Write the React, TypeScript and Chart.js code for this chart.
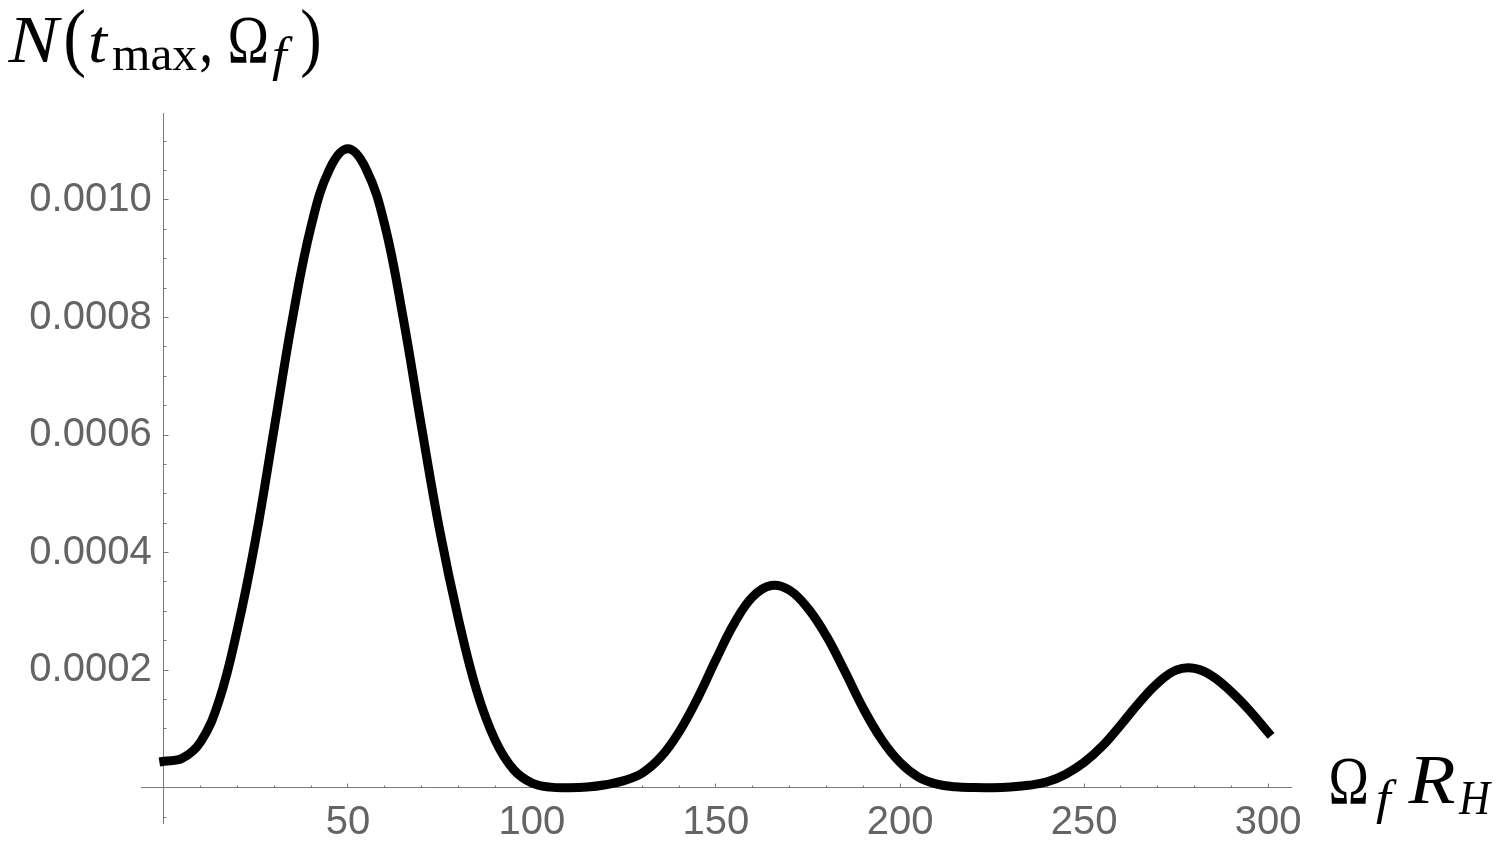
import React, { useEffect, useRef } from "react";
import { Chart, registerables } from "chart.js";

Chart.register(...registerables);

// Ω_f R_H values (x) and N(t_max, Ω_f) values (y)
const OMEGA_R: number[] = [
  0, 5, 10, 15, 20, 25, 30, 35, 40, 45, 50, 55, 60, 65, 70, 75, 80, 85, 90, 95,
  100, 105, 110, 115, 120, 125, 130, 135, 140, 145, 150, 155, 160, 165, 170,
  175, 180, 185, 190, 195, 200, 205, 210, 215, 220, 225, 230, 235, 240, 245, 250,
  255, 260, 265, 270, 275, 280, 285, 290, 295, 300,
];
const N_TMAX: number[] = [
  0.000045, 0.00005, 0.000078, 0.000148, 0.00027, 0.000425, 0.000612, 0.0008,
  0.000955, 0.001052, 0.001087, 0.001052, 0.000958, 0.0008, 0.000614, 0.000436,
  0.000288, 0.000165, 0.000081, 0.000031, 0.000008, 0.000001, 0.0, 0.000001,
  0.000005, 0.000012, 0.000025, 0.000052, 0.000095, 0.000152, 0.000218, 0.00028,
  0.000325, 0.000344, 0.000336, 0.000305, 0.000258, 0.000198, 0.000135, 0.000082,
  0.000043, 0.000018, 0.000006, 0.0000015, 0.0000002, 0.0, 0.0000012, 0.000004,
  0.00001, 0.000023, 0.000043, 0.000071, 0.000107, 0.000145, 0.000178, 0.0002,
  0.000203, 0.000189, 0.000163, 0.000131, 0.000094,
];

const X_TICKS: number[] = [50, 100, 150, 200, 250, 300];
const X_TICK_LABELS: string[] = ["50", "100", "150", "200", "250", "300"];
const Y_TICKS: number[] = [0.0002, 0.0004, 0.0006, 0.0008, 0.001];
const Y_TICK_LABELS: string[] = ["0.0002", "0.0004", "0.0006", "0.0008", "0.0010"];
const X_MAJOR_STEP = 50;
const X_MINOR_STEP = 10;
const Y_MAJOR_STEP = 0.0002;
const Y_MINOR_STEP = 0.00005;
const X_MIN = -6.2;
const X_MAX = 306.4;
const Y_MIN = -0.0000601;
const Y_MAX = 0.0011475;

const AXIS_COLOR = "#7a7a7a";
const LABEL_COLOR = "#646464";
const TICK_FONT = { family: '"Liberation Sans", Arial, sans-serif', size: 40 };

type Piece = { text: string; italic: boolean; size: number; x0: number; x1: number; base: number };

const TITLE_PIECES: Piece[] = [
  { text: "N", italic: true, size: 68, x0: 7, x1: 63, base: 62 },
  { text: "(", italic: false, size: 76, x0: 66, x1: 84, base: 62 },
  { text: "t", italic: true, size: 62, x0: 88, x1: 111, base: 62 },
  { text: "max", italic: false, size: 48, x0: 113, x1: 197, base: 70 },
  { text: ",", italic: false, size: 68, x0: 201, x1: 210, base: 62 },
  { text: "Ω", italic: false, size: 68, x0: 230, x1: 267, base: 62 },
  { text: "f", italic: true, size: 48, x0: 272, x1: 293, base: 71 },
  { text: ")", italic: false, size: 76, x0: 302, x1: 319, base: 62 },
];
const XLABEL_PIECES: Piece[] = [
  { text: "Ω", italic: false, size: 68, x0: 1331, x1: 1367, base: 803 },
  { text: "f", italic: true, size: 48, x0: 1375, x1: 1398, base: 814 },
  { text: "R", italic: true, size: 70, x0: 1405, x1: 1457, base: 803 },
  { text: "H", italic: true, size: 48, x0: 1458, x1: 1492, base: 814 },
];

function drawPieces(ctx: CanvasRenderingContext2D, pieces: Piece[]) {
  for (const p of pieces) {
    ctx.save();
    ctx.font = `${p.italic ? "italic " : ""}${p.size}px "Liberation Serif", "DejaVu Serif", serif`;
    ctx.textAlign = "left";
    ctx.textBaseline = "alphabetic";
    ctx.fillStyle = "#000";
    const m = ctx.measureText(p.text);
    const inkW = m.actualBoundingBoxRight + m.actualBoundingBoxLeft;
    const target = p.x1 - p.x0;
    let sx = inkW > 0 ? target / inkW : 1;
    sx = Math.max(0.75, Math.min(1.1, sx));
    const start = p.x0 + (target - inkW * sx) / 2;
    ctx.translate(start, p.base);
    ctx.scale(sx, 1);
    ctx.fillText(p.text, m.actualBoundingBoxLeft, 0);
    ctx.restore();
  }
}

const mathLabels = {
  id: "mathLabels",
  afterDraw(chart: Chart) {
    const ctx = chart.ctx;
    drawPieces(ctx, TITLE_PIECES);
    drawPieces(ctx, XLABEL_PIECES);
  },
};

function labelFor(values: number[], labels: string[], v: number): string {
  for (let i = 0; i < values.length; i++) {
    if (Math.abs(values[i] - v) < 1e-9) return labels[i];
  }
  return "";
}

export default function App() {
  const canvasRef = useRef<HTMLCanvasElement | null>(null);

  useEffect(() => {
    const canvas = canvasRef.current;
    if (!canvas) return;
    const points = OMEGA_R.map((x, i) => ({ x, y: N_TMAX[i] }));

    const chart = new Chart(canvas, {
      type: "line",
      data: {
        datasets: [
          {
            data: points,
            borderColor: "#000",
            borderWidth: 9,
            borderCapStyle: "square",
            borderJoinStyle: "round",
            pointRadius: 0,
            fill: false,
            tension: 0.4,
            clip: false,
          },
        ],
      },
      options: {
        animation: false,
        responsive: false,
        devicePixelRatio: 1,
        layout: { padding: { left: 141, right: 208.3, top: 113.3, bottom: 27 } },
        plugins: { legend: { display: false }, tooltip: { enabled: false }, title: { display: false } },
        events: [],
        scales: {
          x: {
            type: "linear",
            axis: "x",
            min: X_MIN,
            max: X_MAX,
            position: { y: 0 } as any,
            border: { display: true, color: AXIS_COLOR, width: 1 },
            grid: { drawOnChartArea: false, drawTicks: true, tickLength: -4.5, tickColor: AXIS_COLOR, tickWidth: 1 },
            ticks: { display: false, stepSize: X_MAJOR_STEP, includeBounds: false },
          },
          xMinor: {
            type: "linear",
            axis: "x",
            min: X_MIN,
            max: X_MAX,
            position: { y: 0 } as any,
            border: { display: false },
            grid: { drawOnChartArea: false, drawTicks: true, tickLength: -2.5, tickColor: AXIS_COLOR, tickWidth: 1 },
            ticks: { display: false, stepSize: X_MINOR_STEP, includeBounds: false },
          },
          xLab: {
            type: "linear",
            axis: "x",
            min: X_MIN,
            max: X_MAX,
            position: { y: -0.0000192 } as any,
            border: { display: false },
            grid: { drawOnChartArea: false, drawTicks: false },
            afterBuildTicks: (scale: any) => {
              scale.ticks = X_TICKS.map((v) => ({ value: v }));
            },
            ticks: {
              display: true,
              padding: 0,
              color: LABEL_COLOR,
              font: TICK_FONT,
              maxRotation: 0,
              autoSkip: false,
              callback: (v: any) => labelFor(X_TICKS, X_TICK_LABELS, Number(v)),
            },
          },
          y: {
            type: "linear",
            axis: "y",
            min: Y_MIN,
            max: Y_MAX,
            position: { x: 0 } as any,
            border: { display: true, color: AXIS_COLOR, width: 1 },
            grid: { drawOnChartArea: false, drawTicks: true, tickLength: -5.5, tickColor: AXIS_COLOR, tickWidth: 1 },
            ticks: { display: false, stepSize: Y_MAJOR_STEP, includeBounds: false },
          },
          yMinor: {
            type: "linear",
            axis: "y",
            min: Y_MIN,
            max: Y_MAX,
            position: { x: 0 } as any,
            border: { display: false },
            grid: { drawOnChartArea: false, drawTicks: true, tickLength: -2.5, tickColor: AXIS_COLOR, tickWidth: 1 },
            ticks: { display: false, stepSize: Y_MINOR_STEP, includeBounds: false },
          },
          yLab: {
            type: "linear",
            axis: "y",
            min: Y_MIN,
            max: Y_MAX,
            position: { x: -3.3 } as any,
            border: { display: false },
            grid: { drawOnChartArea: false, drawTicks: false },
            afterBuildTicks: (scale: any) => {
              scale.ticks = Y_TICKS.map((v) => ({ value: v }));
            },
            ticks: {
              display: true,
              padding: 0,
              color: LABEL_COLOR,
              font: TICK_FONT,
              autoSkip: false,
              callback: (v: any) => labelFor(Y_TICKS, Y_TICK_LABELS, Number(v)),
            },
          },
        },
      },
      plugins: [mathLabels],
    } as any);

    return () => chart.destroy();
  }, []);

  return (
    <div style={{ position: "fixed", left: 0, top: 0, width: 1500, height: 850, background: "#fff" }}>
      <canvas ref={canvasRef} width={1500} height={850} style={{ display: "block" }} />
    </div>
  );
}
